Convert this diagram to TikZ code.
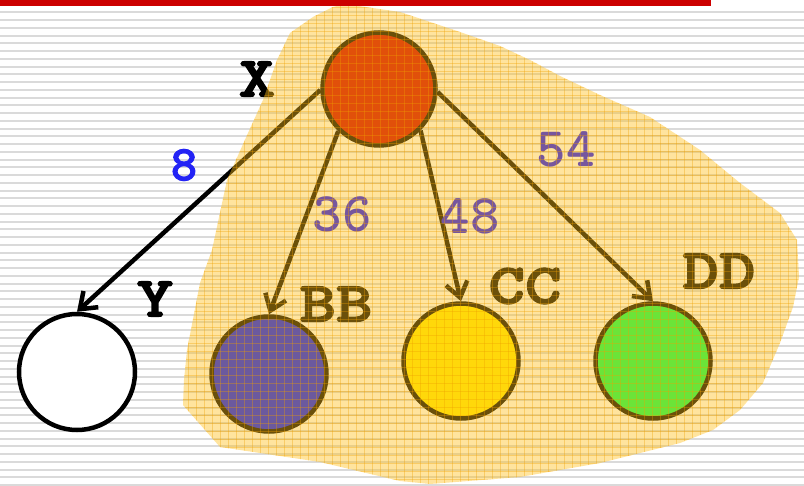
\documentclass[tikz,border=0pt]{standalone}
\usetikzlibrary{arrows.meta}
\definecolor{barred}{RGB}{204,0,0}
\definecolor{stripegray}{RGB}{218,218,218}
\definecolor{blobfill}{RGB}{255,192,25}
\definecolor{blobgrid}{RGB}{240,160,0}
\definecolor{rootfill}{RGB}{205,0,0}
\definecolor{bbfill}{RGB}{0,15,255}
\definecolor{ccfill}{RGB}{255,235,0}
\definecolor{ddfill}{RGB}{0,255,80}
\definecolor{numblue}{RGB}{35,35,245}
\definecolor{numdeep}{RGB}{20,10,255}
% heavy slab-serif monospace for the node letters
\font\heavytt="[lmmonolt10-bold.otf]:embolden=2.2" at 57pt
\font\digittt="[lmmonolt10-bold.otf]" at 56pt
\font\digitbold="[lmmonolt10-bold.otf]:embolden=2" at 50pt
\tikzset{
  vertex/.style={circle, draw=black, line width=4.5pt, minimum size=115pt, inner sep=0pt},
  link/.style={line width=4.5pt, -{Straight Barb[length=15pt,width=22pt]}},
  letter/.style={font=\heavytt, inner sep=0pt, text=black},
  weight/.style={font=\digittt, inner sep=0pt, text=numdeep},
}
\newcommand{\wide}[1]{\scalebox{1.22}[1]{#1}}
\begin{document}
\begin{tikzpicture}[x=1pt, y=-1pt]
  \useasboundingbox (0,0) rectangle (804,486);
  \fill[white] (0,0) rectangle (804,486);
  % ruled slide background
  \foreach \i in {0,...,61}
    \draw[stripegray, line width=2pt] (0,12.5+7.75*\i) -- (804,12.5+7.75*\i);

  % tree
  \node[vertex, fill=rootfill, minimum size=113pt] (x) at (379,89) {};
  \node[vertex, fill=white, minimum size=116pt] (y) at (77,372) {};
  \node[vertex, fill=bbfill] (bb) at (269,374) {};
  \node[vertex, fill=ccfill] (cc) at (461,361) {};
  \node[vertex, fill=ddfill] (dd) at (653,361) {};

  \draw[link] (x.181) -- (y.north);
  \draw[link] (x.226) -- (bb.north);
  \draw[link] (x.315) -- (cc.north);
  \draw[link] (x.357) -- (dd.north);

  \node[letter] (lx) at (257,79) {\wide{X}};
  \node[letter] (ly) at (155,299) {\wide{Y}};
  \node[letter] (lbb) at (336,304) {\wide{BB}};
  \node[letter] (lcc) at (525,286) {\wide{CC}};
  \node[letter] (ldd) at (719,271) {\wide{DD}};

  \node[weight, font=\digitbold, text=numblue] (w8) at (184,165) {8};
  \node[weight] (w36) at (342,214) {36};
  \node[weight] (w48) at (470,216) {48};
  \node[weight] (w54) at (566,149) {54};

  % translucent highlight region
  \def\blobpath{(345,4) -- (400,12) -- (430,22) -- (460,32) -- (500,46) -- (530,60)
    -- (560,76) -- (600,95) -- (650,117) -- (700,150) -- (740,183) -- (780,213)
    -- (797,240) -- (799,277) -- (793,307) -- (780,343) -- (763,383) -- (740,410)
    -- (713,430) -- (680,443) -- (600,463) -- (520,477) -- (430,484) -- (400,481)
    -- (320,462) -- (220,447) -- (183,405) -- (184,380) -- (187,350) -- (200,283)
    -- (212,250) -- (227,180) -- (248,133) -- (263,100) -- (277,60) -- (290,33)
    -- (313,17) -- (333,7) -- cycle}
  \fill[blobfill, opacity=0.42] \blobpath;
  \begin{scope}
    \clip \blobpath;
    \foreach \i in {0,...,78}
      \draw[blobgrid, opacity=0.35, line width=1pt] (180+8*\i,0) -- (180+8*\i,486);
    \foreach \i in {0,...,61}
      \draw[blobgrid, opacity=0.35, line width=1pt] (180,8*\i) -- (804,8*\i);
  \end{scope}

  % title bar
  \fill[barred] (0,0) rectangle (711,6);
\end{tikzpicture}
\end{document}
